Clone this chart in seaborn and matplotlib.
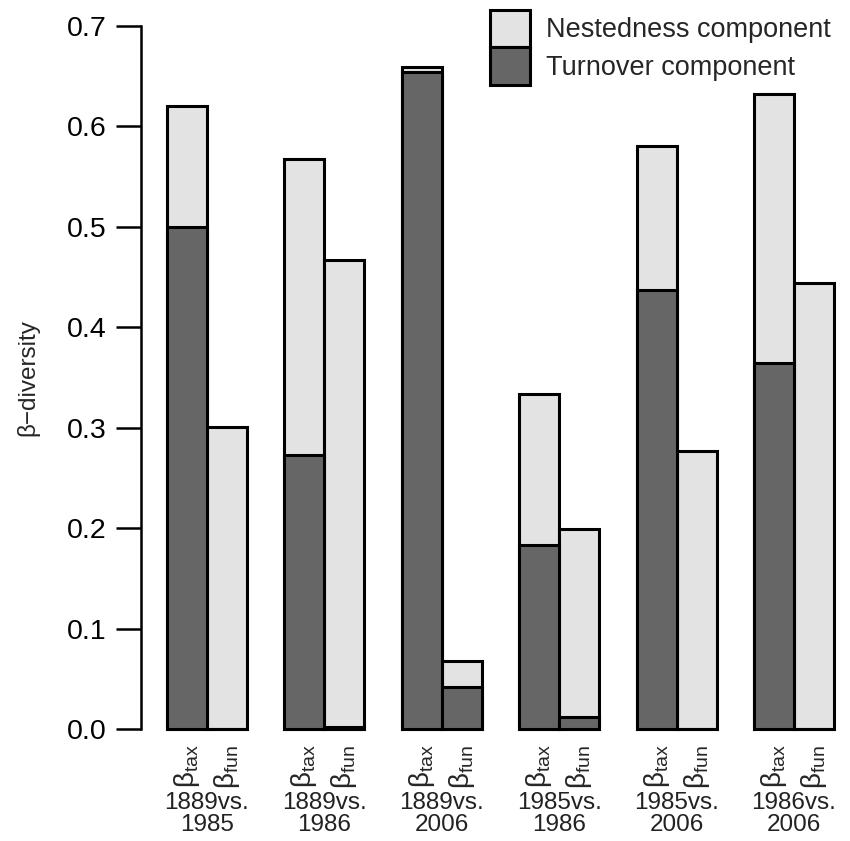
import matplotlib
matplotlib.use("Agg")
import matplotlib.pyplot as plt
import matplotlib.transforms as mtransforms
from matplotlib.patches import Patch
import pandas as pd
import seaborn as sns

# Comparisons between survey years
comparisons = ["1889vs.\n1985", "1889vs.\n1986", "1889vs.\n2006",
               "1985vs.\n1986", "1985vs.\n2006", "1986vs.\n2006"]
# Total beta-diversity (turnover + nestedness)
tax_total = [0.620, 0.568, 0.659, 0.334, 0.581, 0.632]
fun_total = [0.301, 0.467, 0.068, 0.199, 0.277, 0.444]
# Turnover component of beta-diversity
tax_turnover = [0.500, 0.273, 0.654, 0.183, 0.437, 0.364]
fun_turnover = [0.000, 0.002, 0.042, 0.012, 0.000, 0.000]
facets = ["tax", "fun"]

LIGHT = "#e3e3e3"
DARK = "#666666"

df = pd.DataFrame({
    "comparison": comparisons * 2,
    "facet": ["tax"] * 6 + ["fun"] * 6,
    "total": tax_total + fun_total,
    "turnover": tax_turnover + fun_turnover,
})

sns.set_style("white")
plt.rcParams["font.family"] = ["Liberation Sans", "DejaVu Sans"]
plt.rcParams["mathtext.fontset"] = "custom"
plt.rcParams["mathtext.rm"] = "Liberation Sans"
plt.rcParams["mathtext.it"] = "Liberation Sans:italic"
plt.rcParams["mathtext.bf"] = "Liberation Sans:bold"

fig = plt.figure(figsize=(8.5, 8.41), dpi=100)
ax = fig.add_axes([141 / 850, 112 / 841, 709 / 850, 703 / 841])

bar_kw = dict(x="comparison", hue="facet", hue_order=facets, order=comparisons,
              width=0.68, gap=0, edgecolor="black", linewidth=2.2,
              errorbar=None, legend=False, ax=ax)
sns.barplot(data=df, y="total", palette=[LIGHT, LIGHT], **bar_kw)
sns.barplot(data=df, y="turnover", palette=[DARK, DARK], **bar_kw)
for p in ax.patches:
    p.set_clip_on(False)

ax.set_ylim(0, 0.7)
ax.set_xlim(-0.562, 5.477)
ax.set_yticks([0.0, 0.1, 0.2, 0.3, 0.4, 0.5, 0.6, 0.7])
ax.set_yticklabels([f"{v:.1f}" for v in ax.get_yticks()])
ax.tick_params(axis="y", direction="out", length=18, width=1.8,
               labelsize=20.5, pad=7, colors="black", left=True)
ax.tick_params(axis="x", bottom=False, labelbottom=False)
for side in ["top", "right", "bottom"]:
    ax.spines[side].set_visible(False)
ax.spines["left"].set_linewidth(1.8)
ax.spines["left"].set_color("black")
ax.set_xlabel("")
ax.set_ylabel("β\u2212diversity", fontsize=17.5,
              family=["Liberation Sans Narrow", "Liberation Sans"])
ax.yaxis.set_label_coords(-0.143, 0.5)

# Per-bar facet labels under each bar, and comparison labels under each pair
trans = mtransforms.blended_transform_factory(ax.transData, ax.transAxes)
n = len(comparisons)
bars = ax.patches[:2 * n]
for i, p in enumerate(bars):
    facet = facets[i // n]
    cx = p.get_x() + p.get_width() / 2
    ax.text(cx, -0.022, r"β$_{\mathrm{" + facet + "}}$", rotation=90,
            ha="center", va="top", fontsize=20, transform=trans)
for i, lab in enumerate(comparisons):
    ax.text(i, -0.090, lab, ha="center", va="top", fontsize=17.5,
            linespacing=1.0, color="#222222", transform=trans)

handles = [Patch(facecolor=LIGHT, edgecolor="black", linewidth=2.2),
           Patch(facecolor=DARK, edgecolor="black", linewidth=2.2)]
fig.legend(handles, ["Nestedness component", "Turnover component"],
           loc="upper left", bbox_to_anchor=(490 / 850, 1 - 10 / 841),
           bbox_transform=fig.transFigure, frameon=False, fontsize=19.5,
           handlelength=1.48, handleheight=1.75, handletextpad=0.6,
           labelspacing=0, borderpad=0, borderaxespad=0)

fig.savefig("out.png", dpi=100, facecolor="white")
